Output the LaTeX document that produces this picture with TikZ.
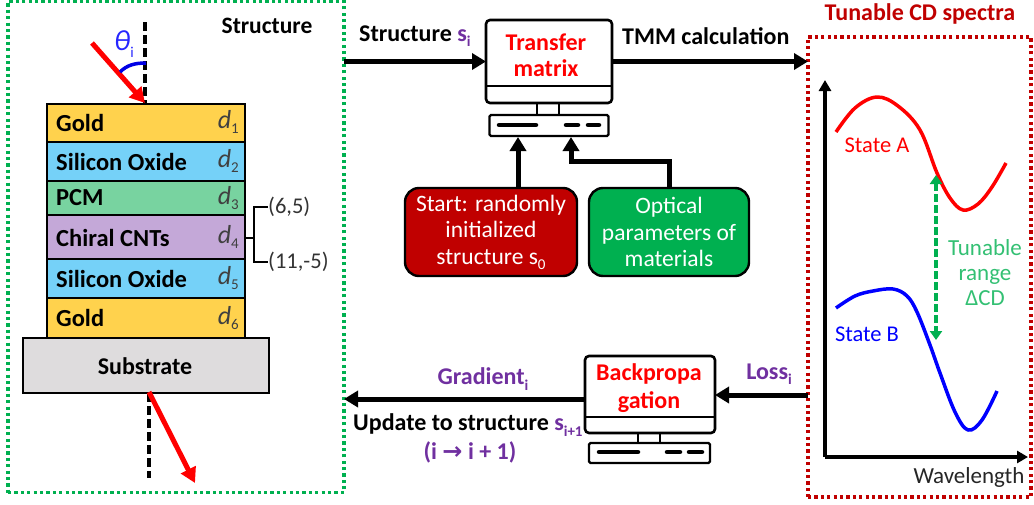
\documentclass[tikz,border=0pt]{standalone}
\usepackage{fontspec}
\setmainfont{Carlito}
\newfontfamily\arrowfont{DejaVu Sans}
\usetikzlibrary{arrows.meta,calc}
\definecolor{gframe}{HTML}{00B050}
\definecolor{rframe}{HTML}{C00000}
\definecolor{purp}{HTML}{7030A0}
\definecolor{cgold}{HTML}{FFD24D}
\definecolor{cblue}{HTML}{75D1F8}
\definecolor{cpcm}{HTML}{78D3A0}
\definecolor{cpur}{HTML}{C4A8D8}
\definecolor{csub}{HTML}{DEDCDD}
\newcommand\fs[1]{\fontsize{#1}{#1}\selectfont}
\newcommand\subs[1]{\raisebox{-0.22em}{\fontsize{15}{15}\selectfont #1}}
\tikzset{
  frame/.style={draw=#1,line width=3.5pt,dash pattern=on 3.2pt off 3.2pt,fill=none,inner sep=0,outer sep=0},
  layer/.style={draw=black,line width=2.4pt,fill=#1,minimum width=198pt,inner sep=0,outer sep=0},
  lab/.style={font=\fs{24.5}\bfseries,anchor=west,inner sep=0},
  boldtxt/.style={font=\fs{24}\bfseries,inner sep=0,align=center},
  dlab/.style={font=\fs{26}\itshape,anchor=east,inner sep=0,text=black!75},
  flow/.style={line width=5pt,-{Triangle[length=14pt,width=16pt]}},
  redarrow/.style={red,line width=5pt,-{Triangle[length=15pt,width=16pt]}},
  dashone/.style={line width=3.5pt,dash pattern=on 9pt off 4pt},
  screen/.style={draw=black,line width=2.6pt,rounded corners=4pt,fill=white,inner sep=0,outer sep=0},
  basebox/.style={draw=black,line width=2.4pt,rounded corners=1.5pt,fill=white,inner sep=0,outer sep=0},
  barline/.style={line width=4.5pt,line cap=round},
  rbox/.style={draw=black,line width=2.4pt,rounded corners=14pt,fill=#1,inner sep=0,outer sep=0,text=white,font=\fs{23.5},align=center,minimum height=88pt},
}
\begin{document}
\begin{tikzpicture}[x=1pt,y=-1pt]
\useasboundingbox (0,0) rectangle (1034,504);
\fill[white] (0,0) rectangle (1034,504);

% frames
\node[frame=gframe,minimum width=336pt,minimum height=491pt] (structbox) at (176,247) {};
\node[frame=rframe,minimum width=223pt,minimum height=460pt] (cdbox) at (919.5,267) {};
\node[font=\fs{23.5}\bfseries,inner sep=0] (structtitle) at (267,26) {Structure};
\node[font=\fs{24}\bfseries,text=rframe,inner sep=0] (cdtitle) at (920,14) {Tunable CD spectra};

% stack
\node[layer=cgold,minimum height=38pt] (l1) at (146,123) {};
\node[layer=cblue,minimum height=39pt] (l2) at (146,161.5) {};
\node[layer=cpcm,minimum height=34pt] (l3) at (146,198) {};
\node[layer=cpur,minimum height=44pt] (l4) at (146,237) {};
\node[layer=cblue,minimum height=39pt] (l5) at (146,278.5) {};
\node[layer=cgold,minimum height=40pt] (l6) at (146,318) {};
\node[draw=black,line width=2.4pt,fill=csub,minimum width=246pt,minimum height=55pt,inner sep=0,outer sep=0] (sub) at (146,365.5) {};
\node[lab] (t1) at (56,123) {Gold};
\node[lab] (t2) at (56,162) {Silicon Oxide};
\node[lab] (t3) at (56,198) {PCM};
\node[lab] (t4) at (56,238) {Chiral CNTs};
\node[lab] (t5) at (56,279) {Silicon Oxide};
\node[lab] (t6) at (56,318) {Gold};
\node[boldtxt] (t7) at (145,366) {Substrate};
\node[dlab] (d1) at (239,122) {d\subs{\upshape 1}};
\node[dlab] (d2) at (239,161) {d\subs{\upshape 2}};
\node[dlab] (d3) at (239,198) {d\subs{\upshape 3}};
\node[dlab] (d4) at (239,237) {d\subs{\upshape 4}};
\node[dlab] (d5) at (239,278) {d\subs{\upshape 5}};
\node[dlab] (d6) at (239,318) {d\subs{\upshape 6}};

% bracket
\node[font=\fs{22.5},anchor=west,inner sep=0,text=black!80] (c65) at (268,207) {(6,5)};
\node[font=\fs{22.5},anchor=west,inner sep=0,text=black!80] (c115) at (268,262) {(11,-5)};
\coordinate (bk) at (254,238);
\draw[line width=1.8pt] (l4.east |- bk) -- (bk);
\draw[line width=1.8pt] (c65.west) -- (bk |- c65.west) -- (bk |- c115.west) -- (c115.west);

% rays
\coordinate (topnormal) at (145,22);
\coordinate (rayin) at (92,43);
\coordinate (botnormal) at (149,478);
\coordinate (rayout) at (195,483);
\draw[dashone] (topnormal) -- (topnormal |- l1.north);
\draw[redarrow] (rayin) -- (145,103);
\draw[blue!90!black,line width=3.5pt] (120,72) .. controls (127,65) and (135,63) .. (146,63);
\node[font=\fs{29},text=blue!85!white,inner sep=0] (theta) at (124,44) {\itshape θ\subs{\upshape i}};
\draw[dashone] (botnormal |- sub.south) -- (botnormal);
\draw[redarrow] (149,392) -- (rayout);

% transfer matrix computer
\node[screen,minimum width=126pt,minimum height=83pt] (tm) at (549,61.5) {};
\draw[line width=2.4pt] (tm.west |- 0,86) -- (tm.east |- 0,86);
\node[basebox,minimum width=119pt,minimum height=21pt] (tmb) at (549,125.5) {};
\draw[line width=2.4pt] (537,104) -- (537,115) (559,104) -- (559,115);
\draw[barline] (499,125) -- (536,125) (566,125) -- (578,125) (588,125) -- (599,125);
\node[boldtxt,text=red,font=\fs{24}\bfseries] (tmt) at (546,55) {Transfer\\[2pt]matrix};

% backprop computer
\node[screen,minimum width=130pt,minimum height=77pt] (bp) at (650,394.5) {};
\draw[line width=2.4pt] (bp.west |- 0,417) -- (bp.east |- 0,417);
\node[basebox,minimum width=121pt,minimum height=20pt] (bpb) at (649.5,453) {};
\draw[line width=2.4pt] (638,433) -- (638,443) (660,433) -- (660,443);
\draw[barline] (599,452) -- (638,452) (667,452) -- (680,452) (689,452) -- (702,452);
\node[boldtxt,text=red,font=\fs{24}\bfseries] (bpt) at (649,388) {Backpropa\\[4pt]gation};

% boxes
\node[rbox=rframe,minimum width=172pt] (start) at (491,232) {Start: randomly\\[3pt]initialized\\[3pt]structure s\subs{0}};
\node[rbox=gframe,minimum width=160pt] (optic) at (669,232) {Optical\\[3pt]parameters of\\[3pt]materials};

% flows
\draw[flow] (structbox.east |- tm.west) -- (tm.west);
\draw[flow] (tm.east) -- (cdbox.west |- tm.east);
\coordinate (upa) at (518,137);
\coordinate (upb) at (571,137);
\draw[flow] (upa |- start.north) -- (upa);
\draw[flow] (optic.north) -- (optic.north |- 0,161) -- (upb |- 0,161) -- (upb);
\coordinate (gr) at (0,399);
\coordinate (ls) at (0,395);
\draw[flow] (bp.west |- gr) -- (structbox.east |- gr);
\draw[flow] (cdbox.west |- ls) -- (bp.east |- ls);

% arrow labels
\node[boldtxt,anchor=west] (a1) at (359,36) {Structure \textcolor{purp}{s\subs{i}}};
\node[boldtxt,anchor=west] (a2) at (622,36) {TMM calculation};
\node[boldtxt,text=purp] (a3) at (483,379) {Gradient\subs{i}};
\node[boldtxt,text=purp] (a4) at (769,374) {Loss\subs{i}};
\node[boldtxt,anchor=west] (a5) at (353,425) {Update to structure \textcolor{purp}{s\subs{i+1}}};
\node[boldtxt,text=purp] (a6) at (470,452) {(i {\arrowfont →} i + 1)};

% plot
\coordinate (orig) at (825,457);
\coordinate (ytip) at (825,80);
\coordinate (xtip) at (1028,457);
\draw[line width=3.5pt,-{Triangle[length=11pt,width=12pt]}] (orig) -- (ytip);
\draw[line width=3.5pt,-{Triangle[length=11pt,width=12pt]}] (orig) -- (xtip);
\draw[red,line width=3.5pt,line join=round] plot[smooth,tension=0.6] coordinates {(836,132) (855,108) (877,97) (898,106) (920,130) (937,173) (950,198) (963,210) (978,204) (992,187) (1006,163)};
\draw[blue,line width=3.5pt,line join=round] plot[smooth,tension=0.6] coordinates {(836,308) (855,296) (873,291) (893,289) (907,296) (917,312) (930,345) (940,373) (955,412) (968,430) (982,420) (997,391)};
\coordinate (rgA) at (936,175);
\coordinate (rgB) at (936,340);
\draw[gframe,line width=3.5pt,dash pattern=on 8pt off 3pt,{Triangle[length=9pt,width=12pt]}-{Triangle[length=9pt,width=12pt]}] (rgA) -- (rgB);
\node[font=\fs{22.5},text=red,inner sep=0] (sa) at (877,145) {State A};
\node[font=\fs{22.5},text=blue,inner sep=0] (sb) at (867,334) {State B};
\node[font=\fs{23},text=gframe!80!white,inner sep=0,align=center] (tr) at (985,273) {Tunable\\[2pt]range\\[2pt]ΔCD};
\node[font=\fs{23},text=black!85,inner sep=0] (wl) at (969,477) {Wavelength};
\end{tikzpicture}
\end{document}
